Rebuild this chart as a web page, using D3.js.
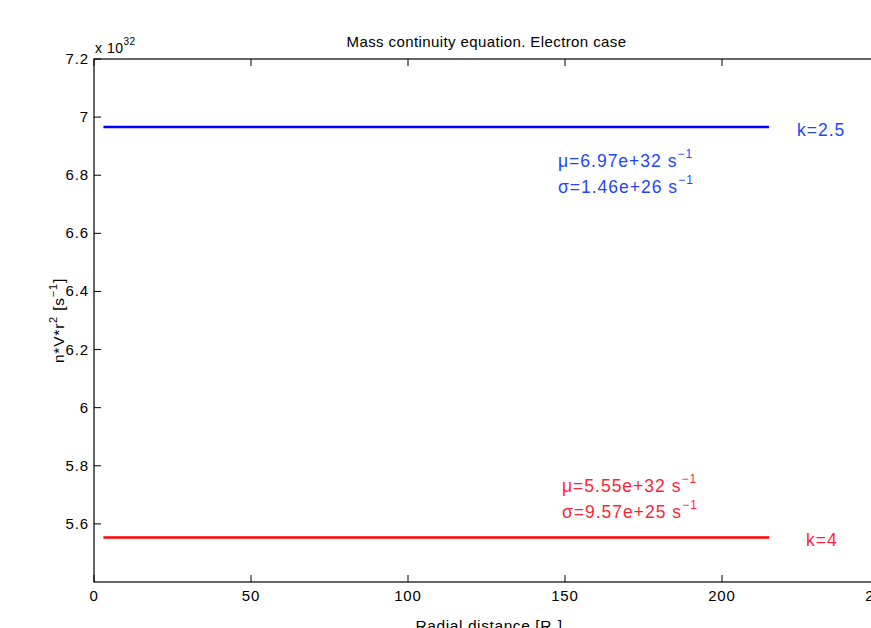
<!DOCTYPE html>
<html><head><meta charset="utf-8">
<script src="https://cdn.jsdelivr.net/npm/d3@7"></script>
<style>body{margin:0;background:#fff}svg{display:block;font-family:"Liberation Sans",Arial,sans-serif}</style>
</head><body><svg id="c" width="871" height="628"></svg>
<script>
const radialBlue = [3, 50, 100, 150, 215];
const fluxBlue = [6.966, 6.966, 6.966, 6.966, 6.966];
const radialRed = [3, 50, 100, 150, 215];
const fluxRed = [5.553, 5.553, 5.553, 5.553, 5.553];
const xTicks = [0, 50, 100, 150, 200, 250];
const yTicks = [5.6, 5.8, 6, 6.2, 6.4, 6.6, 6.8, 7, 7.2];
const seriesLabels = ["k=2.5", "k=4"];
const muLabels = ["6.97e+32", "5.55e+32"];
const sigmaLabels = ["1.46e+26", "9.57e+25"];

const svg = d3.select("#c");
const L = 94, R = 879, T = 59, B = 582;
const x = d3.scaleLinear().domain([0, 250]).range([L, R]);
const y = d3.scaleLinear().domain([5.4, 7.2]).range([B, T]);

const g = svg.append("g");
g.append("rect").attr("x", L).attr("y", T).attr("width", R - L).attr("height", B - T)
  .attr("fill", "none").attr("stroke", "#000").attr("stroke-width", 1.2);

const fs = "15px", ls = "0.9px";
xTicks.forEach(t => {
  g.append("line").attr("x1", x(t)).attr("x2", x(t)).attr("y1", B).attr("y2", B - 7).attr("stroke", "#000");
  g.append("line").attr("x1", x(t)).attr("x2", x(t)).attr("y1", T).attr("y2", T + 7).attr("stroke", "#000");
  g.append("text").attr("x", x(t)).attr("y", B + 19).attr("text-anchor", "middle").attr("font-size", fs)
    .attr("letter-spacing", ls).text(t);
});
yTicks.forEach(t => {
  g.append("line").attr("x1", L).attr("x2", L + 7).attr("y1", y(t)).attr("y2", y(t)).attr("stroke", "#000");
  g.append("line").attr("x1", R).attr("x2", R - 7).attr("y1", y(t)).attr("y2", y(t)).attr("stroke", "#000");
  g.append("text").attr("x", L - 5).attr("y", y(t) + 5).attr("text-anchor", "end").attr("font-size", fs)
    .attr("letter-spacing", ls).text(d3.format("~g")(t));
});
const ex = g.append("text").attr("x", 95).attr("y", 53).attr("font-size", "14px").attr("letter-spacing", "0.5px");
ex.append("tspan").text("x 10");
ex.append("tspan").attr("dy", -8).attr("font-size", "10px").text("32");

g.append("text").attr("x", (L + R) / 2).attr("y", 47).attr("text-anchor", "middle").attr("font-size", "15px")
  .attr("letter-spacing", "0.4px").text("Mass continuity equation. Electron case");
const xl = g.append("text").attr("x", 489).attr("y", 631).attr("text-anchor", "middle").attr("font-size", "15.5px")
  .attr("letter-spacing", "0.6px");
xl.append("tspan").text("Radial distance [R");
xl.append("tspan").attr("dy", 3).attr("font-size", "10px").text("s");
xl.append("tspan").attr("dy", -3).text("]");
const yl = g.append("text").attr("transform", `translate(64,${(T + B) / 2}) rotate(-90)`)
  .attr("text-anchor", "middle").attr("font-size", "15.5px").attr("letter-spacing", "0.8px");
yl.append("tspan").text("n*V*r");
yl.append("tspan").attr("dy", -7).attr("font-size", "11px").text("2");
yl.append("tspan").attr("dy", 7).text(" [s");
yl.append("tspan").attr("dy", -7).attr("font-size", "11px").text("−1");
yl.append("tspan").attr("dy", 7).text("]");

const line = d3.line().x(d => x(d[0])).y(d => y(d[1]));
g.append("path").datum(d3.zip(radialBlue, fluxBlue)).attr("d", line).attr("fill", "none").attr("stroke", "#0000ff").attr("stroke-width", 2.4);
g.append("path").datum(d3.zip(radialRed, fluxRed)).attr("d", line).attr("fill", "none").attr("stroke", "#ff0000").attr("stroke-width", 2.4);

function stat(xp, yp, sym, val, col) {
  const t = g.append("text").attr("x", xp).attr("y", yp).attr("font-size", "17.5px").attr("fill", col)
    .attr("letter-spacing", "1px");
  t.append("tspan").text(sym + "=" + val + " s");
  t.append("tspan").attr("dy", -9).attr("font-size", "12px").text("−1");
}
const blueTxt = "#1f45ff", redTxt = "#ff1f3a";
stat(558, 167, "μ", muLabels[0], blueTxt);
stat(558, 193, "σ", sigmaLabels[0], blueTxt);
stat(562, 492, "μ", muLabels[1], redTxt);
stat(562, 518, "σ", sigmaLabels[1], redTxt);
g.append("text").attr("x", 797).attr("y", 136).attr("font-size", "17.5px").attr("letter-spacing", "1px").attr("fill", blueTxt).text(seriesLabels[0]);
g.append("text").attr("x", 806).attr("y", 546).attr("font-size", "17.5px").attr("letter-spacing", "1px").attr("fill", redTxt).text(seriesLabels[1]);
</script></body></html>
